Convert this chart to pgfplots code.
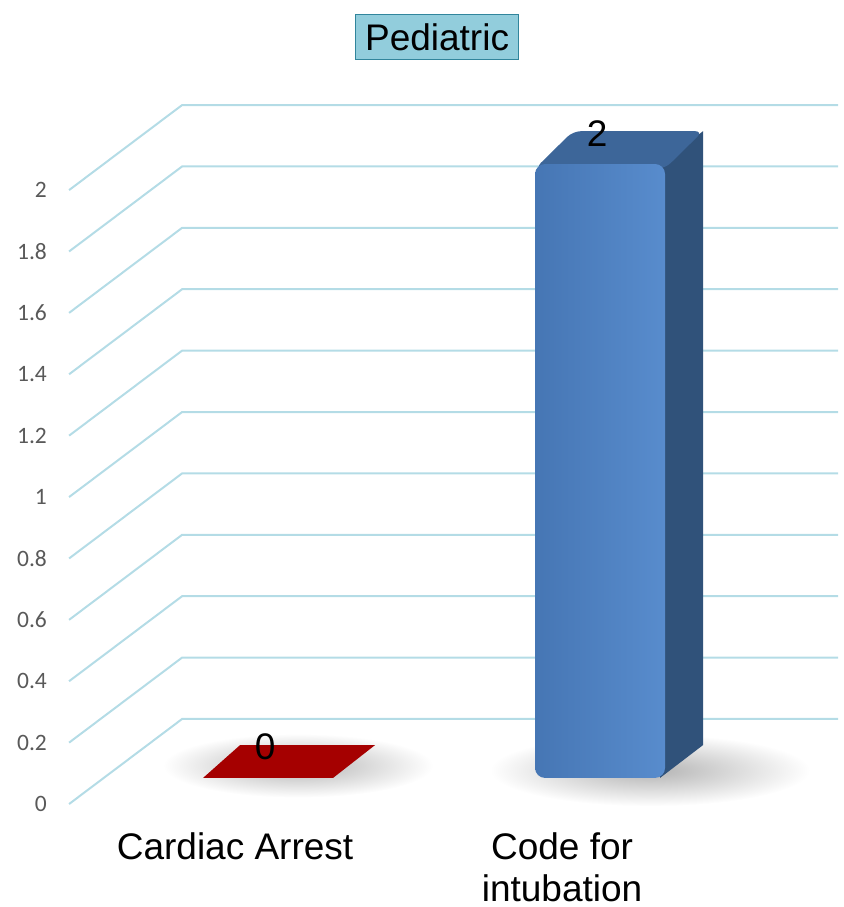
\documentclass[border=0pt]{standalone}
\usepackage{fontspec}
\setmainfont{Liberation Sans}
\newfontfamily\calibri{Carlito}
\usepackage{pgfplots}
\pgfplotsset{compat=1.18}
\definecolor{gridblue}{HTML}{B4DCE6}
\definecolor{tickgray}{HTML}{595959}
\definecolor{titlefill}{HTML}{92CDDC}
\definecolor{titleedge}{HTML}{31859C}
\definecolor{blueL}{HTML}{4676B4}
\definecolor{blueM}{HTML}{4F81BD}
\definecolor{blueR}{HTML}{588CCD}
\definecolor{blueSide}{HTML}{30527A}
\definecolor{blueTop}{HTML}{3D6699}
\definecolor{redbar}{HTML}{A50000}

\begin{document}
\begin{tikzpicture}
\begin{axis}[
    width=843pt, height=820pt, scale only axis,
    xmin=0, xmax=843, ymin=-0.0521, ymax=2.619,
    clip=false,
    axis line style={draw=none},
    major tick length=0pt,
    ytick={0,0.2,0.4,0.6,0.8,1,1.2,1.4,1.6,1.8,2},
    yticklabel style={font=\calibri\fontsize{23.5}{24}\selectfont, text=tickgray,
      anchor=east, inner sep=0pt, xshift=47pt},
    /pgf/number format/assume math mode=true,
    xtick={235,562},
    xticklabels={Cardiac Arrest, {Code for\\intubation}},
    xticklabel style={font=\fontsize{37}{42}\selectfont, align=center, anchor=north,
      inner sep=0pt, yshift=-12pt},
]
% fix the picture frame to the reference size
\path (axis cs:0,-0.3355) (axis cs:843,2.619);

% soft floor shadows
\shade[inner color=black!30, outer color=white] (axis cs:298,0.125) ellipse [x radius=135pt, y radius=32pt];
\shade[inner color=black!30, outer color=white] (axis cs:650,0.11) ellipse [x radius=160pt, y radius=36pt];

% 3D grid: side wall diagonals + back wall
\pgfplotsinvokeforeach{0,0.2,0.4,0.6,0.8,1,1.2,1.4,1.6,1.8,2}{
  \draw[gridblue, line width=2pt] (axis cs:69,#1) -- (axis cs:182,{#1+0.277}) -- (axis cs:838,{#1+0.277});
}

% Cardiac Arrest = 0 (flat slab)
\addplot[draw=none, fill=redbar] coordinates {(203,0.085)(333,0.085)(375,0.192)(240,0.192)} -- cycle;

% Code for intubation = 2
\addplot[draw=none, fill=blueSide] coordinates {(660,0.085)(703,0.192)(703,2.192)(660,2.085)} -- cycle;
\addplot[draw=none, fill=blueTop, rounded corners=8pt] coordinates {(535,2.07)(665,2.07)(703,2.192)(573,2.192)} -- cycle;
\addplot[draw=none, left color=blueL, middle color=blueM, right color=blueR, rounded corners=10pt]
  coordinates {(535,0.085)(665,0.085)(665,2.085)(535,2.085)} -- cycle;

% value labels
\addplot[draw=none, mark=none, nodes near coords, point meta=y,
  nodes near coords style={font=\fontsize{37}{37}\selectfont, anchor=center, yshift=57pt}]
  coordinates {(265,0)(597,2)};

\node[draw=titleedge, fill=titlefill, line width=1pt, font=\fontsize{37}{37}\selectfont,
  minimum width=163pt, minimum height=45pt, inner sep=2pt] at (axis cs:437,2.498) {Pediatric};
\end{axis}
\end{tikzpicture}
\end{document}
